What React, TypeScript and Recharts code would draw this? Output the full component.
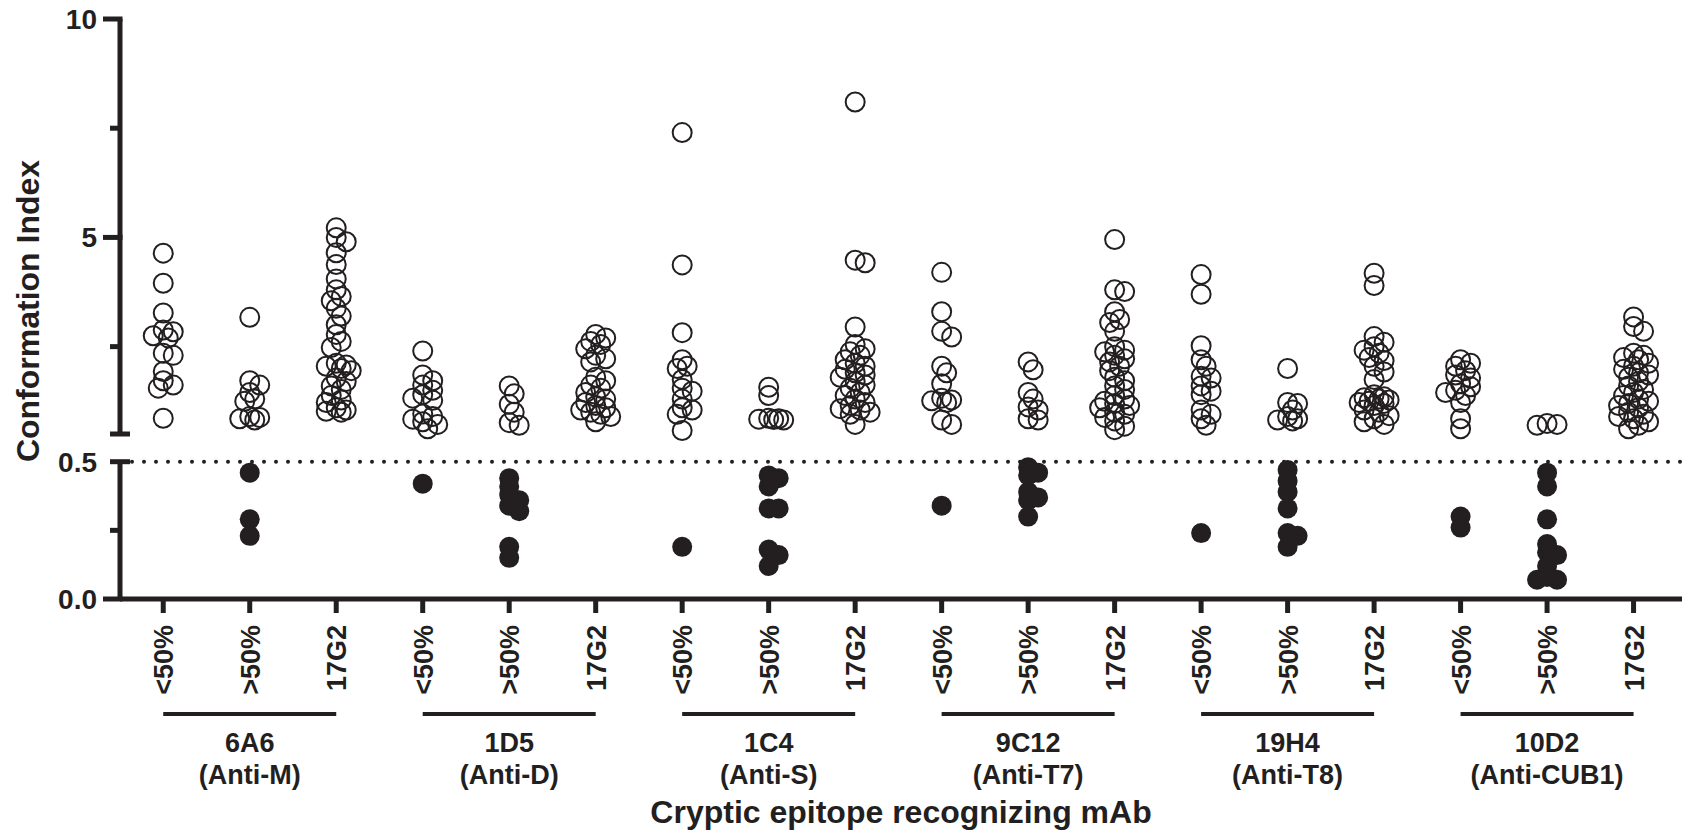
import { ScatterChart, Scatter, XAxis, YAxis, ReferenceLine } from 'recharts'

// subsets plotted for each mAb, in order
const subsets = ['<50%', '>50%', '17G2']
const mAbNames = ['6A6', '1D5', '1C4', '9C12', '19H4', '10D2']
const mAbTargets = ['(Anti-M)', '(Anti-D)', '(Anti-S)', '(Anti-T7)', '(Anti-T8)', '(Anti-CUB1)']

// conformation index values: [<50%, >50%, 17G2]
const mAb6A6 = [
  [4.64, 3.95, 3.27, 2.88, 2.84, 2.75, 2.7, 2.35, 2.3, 1.93, 1.72, 1.62, 1.55, 0.86],
  [3.17, 1.72, 1.62, 1.45, 1.3, 1.25, 0.9, 0.88, 0.85, 0.82, 0.46, 0.29, 0.23],
  [5.22, 5.0, 4.9, 4.65, 4.38, 4.05, 3.8, 3.65, 3.55, 3.38, 3.2, 3.0, 2.78, 2.62, 2.48, 2.12, 2.08, 2.05, 2.0, 1.95, 1.78, 1.7, 1.6, 1.52, 1.38, 1.28, 1.22, 1.1, 1.05, 1.02, 1.0],
]
const mAb1D5 = [
  [2.4, 1.85, 1.72, 1.62, 1.5, 1.4, 1.32, 1.27, 0.96, 0.9, 0.84, 0.78, 0.72, 0.62, 0.42],
  [1.6, 1.42, 1.18, 1.0, 0.76, 0.7, 0.44, 0.41, 0.38, 0.36, 0.34, 0.32, 0.19, 0.15],
  [2.78, 2.7, 2.62, 2.55, 2.45, 2.3, 2.22, 2.15, 1.8, 1.72, 1.62, 1.55, 1.45, 1.35, 1.3, 1.22, 1.15, 1.1, 1.05, 1.0, 0.95, 0.9, 0.78],
]
const mAb1C4 = [
  [7.4, 4.37, 2.82, 2.2, 2.05, 2.0, 1.75, 1.55, 1.48, 1.3, 1.1, 1.05, 0.95, 0.58, 0.19],
  [1.57, 1.38, 0.86, 0.85, 0.84, 0.83, 0.82, 0.45, 0.44, 0.41, 0.33, 0.33, 0.18, 0.16, 0.12],
  [8.1, 4.48, 4.42, 2.95, 2.55, 2.45, 2.38, 2.3, 2.2, 2.12, 2.05, 1.98, 1.9, 1.85, 1.8, 1.7, 1.62, 1.55, 1.45, 1.38, 1.3, 1.22, 1.15, 1.08, 1.05, 1.0, 0.95, 0.72],
]
const mAb9C12 = [
  [4.2, 3.3, 2.85, 2.72, 2.05, 1.9, 1.65, 1.32, 1.28, 1.26, 1.22, 0.82, 0.72, 0.34],
  [2.15, 1.97, 1.45, 1.3, 1.12, 1.05, 0.85, 0.82, 0.48, 0.46, 0.45, 0.39, 0.37, 0.36, 0.3],
  [4.95, 3.8, 3.76, 3.3, 3.12, 3.05, 2.85, 2.5, 2.42, 2.38, 2.3, 2.22, 2.15, 2.05, 1.95, 1.8, 1.72, 1.6, 1.52, 1.38, 1.3, 1.25, 1.2, 1.15, 1.1, 1.0, 0.95, 0.88, 0.8, 0.68, 0.6],
]
const mAb19H4 = [
  [4.15, 3.7, 2.52, 2.2, 2.05, 1.82, 1.78, 1.6, 1.48, 1.4, 1.05, 0.95, 0.85, 0.7, 0.24],
  [2.0, 1.22, 1.2, 1.05, 0.9, 0.85, 0.82, 0.8, 0.47, 0.43, 0.39, 0.33, 0.24, 0.23, 0.19],
  [4.18, 3.9, 2.73, 2.6, 2.5, 2.42, 2.35, 2.25, 2.18, 2.05, 1.92, 1.75, 1.4, 1.35, 1.33, 1.3, 1.28, 1.25, 1.22, 1.2, 1.15, 1.05, 1.0, 0.92, 0.85, 0.78, 0.72],
]
const mAb10D2 = [
  [2.2, 2.12, 2.05, 1.95, 1.85, 1.78, 1.65, 1.58, 1.5, 1.45, 1.38, 1.22, 0.85, 0.62, 0.3, 0.26],
  [0.74, 0.72, 0.7, 0.46, 0.41, 0.29, 0.2, 0.17, 0.16, 0.12, 0.08, 0.07, 0.07],
  [3.18, 2.96, 2.85, 2.35, 2.3, 2.25, 2.2, 2.12, 2.05, 1.98, 1.9, 1.85, 1.8, 1.7, 1.6, 1.52, 1.45, 1.38, 1.3, 1.25, 1.2, 1.15, 1.1, 1.0, 0.95, 0.9, 0.85, 0.78, 0.7, 0.62],
]
const allMAbs = [mAb6A6, mAb1D5, mAb1C4, mAb9C12, mAb19H4, mAb10D2]

const CUTOFF = 0.5
const upperTicks = [0.5, 2.5, 5, 7.5, 10]
const lowerTicks = [0, 0.25, 0.5]
const categoryIdx = mAbNames.flatMap((_, g) => subsets.map((_, s) => g * 3 + s))

// layout
const W = 1682
const H = 832
const AXIS_X = 120
const TOP = 19
const BREAK_HI = 434
const BREAK_LO = 461.7
const AXIS_Y = 599
const STEP = 86.5
const X_DOMAIN = [-0.5, 17.56]
const UPPER_PX = (BREAK_HI - TOP) / 9.5
const LOWER_PX = (AXIS_Y - BREAK_LO) / 0.5
const INK = '#231f20'
const FONT = '"Liberation Sans", Arial, Helvetica, sans-serif'

// simple beeswarm: nudge points sideways when they'd overlap too much
function swarm(vals: number[], pxPerUnit: number) {
  const placed: { dx: number; py: number }[] = []
  return vals.map((v) => {
    const py = v * pxPerUnit
    let best = 0
    let bestD = -1
    for (const dx of [0, 5, -5, 10, -10, 15, -15]) {
      const d = Math.min(Infinity, ...placed.map((p) => Math.hypot(p.dx - dx, p.py - py)))
      if (d >= 8) { best = dx; bestD = d; break }
      if (d > bestD) { best = dx; bestD = d }
    }
    placed.push({ dx: best, py })
    return best / STEP
  })
}

const upperPts: { x: number; y: number }[] = []
const lowerPts: { x: number; y: number }[] = []
allMAbs.forEach((groups, gi) =>
  groups.forEach((vals, si) => {
    const idx = gi * 3 + si
    const hi = vals.filter((v) => v > CUTOFF)
    const lo = vals.filter((v) => v <= CUTOFF)
    swarm(hi, UPPER_PX).forEach((dx, k) => upperPts.push({ x: idx + dx, y: hi[k] }))
    swarm(lo, LOWER_PX).forEach((dx, k) => lowerPts.push({ x: idx + dx, y: lo[k] }))
  }),
)

const OpenDot = (p: any) => <circle cx={p.cx} cy={p.cy} r={9.5} fill="none" stroke={INK} strokeWidth={2} />
const FilledDot = (p: any) => <circle cx={p.cx} cy={p.cy} r={10} fill={INK} />

function YTick({ y, payload, showCapLabel }: any) {
  const v = payload.value
  const major = v === 10 || v === 5 || v === 0
  const cap = v === 0.5
  const x1 = major ? 103 : 110
  const x2 = cap ? 130 : major ? 122.5 : AXIS_X
  let label: string | null = null
  if (major) label = v === 0 ? '0.0' : String(v)
  if (cap && showCapLabel) label = '0.5'
  return (
    <g>
      <line x1={x1} x2={x2} y1={y} y2={y} stroke={INK} strokeWidth={5} />
      {label && (
        <text x={97} y={y + 10} textAnchor="end" fontSize={28} fontWeight="bold" fontFamily={FONT} fill={INK}>
          {label}
        </text>
      )}
    </g>
  )
}

function XTick({ x, payload }: any) {
  const i = payload.value
  const gi = Math.floor(i / 3)
  return (
    <g>
      <line x1={x} x2={x} y1={AXIS_Y} y2={613} stroke={INK} strokeWidth={5} />
      <text
        x={x + 10} y={625} transform={`rotate(-90 ${x + 10} 625)`} textAnchor="end"
        fontSize={27} fontWeight="bold" fontFamily={FONT} fill={INK}
      >
        {subsets[i % 3]}
      </text>
      {i % 3 === 1 && (
        <g>
          <line x1={x - STEP} x2={x + STEP} y1={714} y2={714} stroke={INK} strokeWidth={4} />
          <text x={x} y={752} textAnchor="middle" fontSize={27} fontWeight="bold" fontFamily={FONT} fill={INK}>
            {mAbNames[gi]}
          </text>
          <text x={x} y={784} textAnchor="middle" fontSize={27} fontWeight="bold" fontFamily={FONT} fill={INK}>
            {mAbTargets[gi]}
          </text>
        </g>
      )}
    </g>
  )
}

const layer: React.CSSProperties = { position: 'absolute', left: 0, top: 0 }

export default function App() {
  return (
    <div style={{ position: 'relative', width: W, height: H, background: '#fff' }}>
      <style>{'body{margin:0}'}</style>
      <div style={layer}>
        <ScatterChart width={W} height={H} margin={{ top: TOP, right: 0, bottom: H - BREAK_HI, left: 0 }}>
          <XAxis type="number" dataKey="x" domain={X_DOMAIN} hide />
          <YAxis
            type="number" dataKey="y" domain={[0.5, 10]} ticks={upperTicks} interval={0} width={AXIS_X}
            axisLine={{ stroke: INK, strokeWidth: 5 }} tickLine={false}
            tick={(p: any) => <YTick {...p} showCapLabel={false} />}
            label={{
              content: () => (
                <text
                  x={39} y={311} transform="rotate(-90 39 311)" textAnchor="middle"
                  fontSize={32} fontWeight="bold" fontFamily={FONT} fill={INK}
                >
                  Conformation Index
                </text>
              ),
            }}
          />
          <Scatter data={upperPts} shape={OpenDot} isAnimationActive={false} />
        </ScatterChart>
      </div>
      <div style={layer}>
        <ScatterChart width={W} height={H} margin={{ top: BREAK_LO, right: 0, bottom: 0, left: 0 }}>
          <XAxis
            type="number" dataKey="x" domain={X_DOMAIN} ticks={categoryIdx} interval={0} height={H - AXIS_Y}
            axisLine={{ stroke: INK, strokeWidth: 5 }} tickLine={false} tick={(p: any) => <XTick {...p} />}
            label={{
              content: () => (
                <text x={901} y={823} textAnchor="middle" fontSize={32} fontWeight="bold" fontFamily={FONT} fill={INK}>
                  Cryptic epitope recognizing mAb
                </text>
              ),
            }}
          />
          <YAxis
            type="number" dataKey="y" domain={[0, 0.5]} ticks={lowerTicks} interval={0} width={AXIS_X}
            axisLine={{ stroke: INK, strokeWidth: 5 }} tickLine={false}
            tick={(p: any) => <YTick {...p} showCapLabel />}
          />
          <ReferenceLine y={CUTOFF} stroke={INK} strokeWidth={4} strokeDasharray="0 12" strokeLinecap="round" />
          <Scatter data={lowerPts} shape={FilledDot} isAnimationActive={false} />
        </ScatterChart>
      </div>
    </div>
  )
}
